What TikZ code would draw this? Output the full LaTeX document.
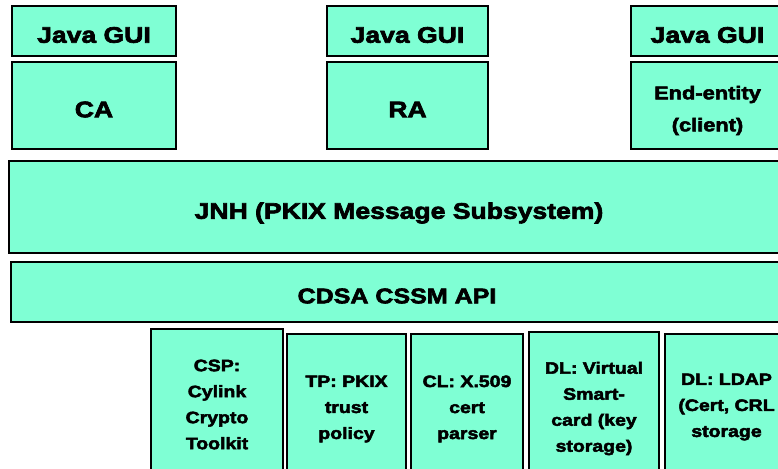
\documentclass[tikz,border=0pt]{standalone}
\usepackage{fontspec}
\newfontfamily\diagfont{Liberation Sans}[FakeStretch=1.18,BoldFeatures={FakeBold=3}]
\definecolor{boxfill}{HTML}{7FFFD4}
\tikzset{
  layerbox/.style={draw=black, line width=2pt, fill=boxfill, inner sep=0pt, outer sep=0pt},
  boxlabel/.style={inner sep=0pt, align=center},
  bigtext/.style={boxlabel, font=\diagfont\bfseries\fontsize{22.5}{27}\selectfont},
  apitext/.style={boxlabel, font=\diagfont\bfseries\fontsize{21.2}{27}\selectfont},
  midtext/.style={boxlabel, font=\diagfont\bfseries\fontsize{18.5}{32}\selectfont},
  smalltext/.style={boxlabel, font=\diagfont\bfseries\fontsize{16.5}{26}\selectfont},
}
\begin{document}
\begin{tikzpicture}[x=1pt,y=-1pt]
\useasboundingbox (0,0) rectangle (778,468);
\clip (0,0) rectangle (778,468);
% top row boxes
\node[layerbox,minimum width=164pt,minimum height=50pt] (gui1) at (94,31) {};
\node[layerbox,minimum width=164pt,minimum height=87pt] (ca) at (94,105.5) {};
\node[layerbox,minimum width=161pt,minimum height=50pt] (gui2) at (407.5,31) {};
\node[layerbox,minimum width=161pt,minimum height=87pt] (ra) at (407.5,105.5) {};
\node[layerbox,minimum width=153pt,minimum height=50pt] (gui3) at (707.5,31) {};
\node[layerbox,minimum width=153pt,minimum height=87pt] (ee) at (707.5,105.5) {};
% middle layers
\node[layerbox,minimum width=780pt,minimum height=92pt] (jnh) at (399,207) {};
\node[layerbox,minimum width=772pt,minimum height=60pt] (cdsa) at (397,292) {};
% bottom modules
\node[layerbox,minimum width=132pt,minimum height=149pt] (csp) at (217,403.5) {};
\node[layerbox,minimum width=119pt,minimum height=144pt] (tp) at (346.5,406) {};
\node[layerbox,minimum width=112pt,minimum height=144pt] (cl) at (467,406) {};
\node[layerbox,minimum width=130pt,minimum height=147pt] (dlv) at (594,405.5) {};
\node[layerbox,minimum width=123pt,minimum height=141pt] (dll) at (726.5,404.5) {};
% texts
\node[bigtext] (gui1t) at ([yshift=-4pt]gui1.center) {Java GUI};
\node[bigtext] (cat) at ([yshift=-4pt]ca.center) {CA};
\node[bigtext] (gui2t) at ([yshift=-4pt]gui2.center) {Java GUI};
\node[bigtext] (rat) at ([yshift=-4pt]ra.center) {RA};
\node[bigtext] (gui3t) at ([yshift=-4pt]gui3.center) {Java GUI};
\node[midtext] (eet) at ([yshift=-5pt]ee.center) {End-entity\\(client)};
\node[bigtext] (jnht) at ([yshift=-6pt]jnh.center) {JNH (PKIX Message Subsystem)};
\node[apitext] (cdsat) at ([yshift=-4pt]cdsa.center) {CDSA CSSM API};
\node[smalltext] (cspt) at ([yshift=-1pt]csp.center) {CSP:\\Cylink\\Crypto\\Toolkit};
\node[smalltext] (tpt) at ([yshift=-3pt]tp.center) {TP: PKIX\\trust\\policy};
\node[smalltext] (clt) at ([yshift=-3pt]cl.center) {CL: X.509\\cert\\parser};
\node[smalltext] (dlvt) at ([yshift=-3pt]dlv.center) {DL: Virtual\\Smart-\\card (key\\storage)};
\node[smalltext] (dllt) at ([yshift=-2.5pt]dll.center) {DL: LDAP\\(Cert, CRL\\storage};
\end{tikzpicture}
\end{document}
